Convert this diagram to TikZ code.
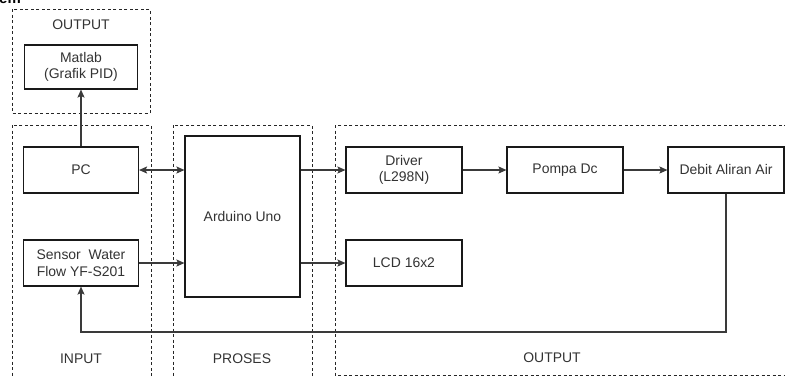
\documentclass[tikz,border=0pt]{standalone}
\usepackage{fontspec}
\setmainfont{Liberation Sans}
\usetikzlibrary{arrows.meta}
\definecolor{txt}{HTML}{333333}
\definecolor{ln}{HTML}{3A3A3A}
\begin{document}
\begin{tikzpicture}[x=1bp,y=-1bp,
  font=\fontsize{14}{16.5}\selectfont,
  blk/.style={draw=black!90, line width=1.1bp, fill=white, text=txt, align=center,
    minimum width=115bp, minimum height=46bp, inner sep=2bp},
  grp/.style={draw=black!85, line width=0.8bp, dash pattern=on 3bp off 2.5bp},
  lbl/.style={text=txt},
  arr/.style={draw=ln, line width=1.2bp, -{Stealth[length=8bp,width=7bp,inset=1.5bp]}},
  darr/.style={draw=ln, line width=1.2bp, {Stealth[length=8bp,width=7bp,inset=1.5bp]}-{Stealth[length=8bp,width=7bp,inset=1.5bp]}}]
\useasboundingbox (0,0) rectangle (785,376);
\clip (0,0) rectangle (785,376);
% cropped heading fragment
\node[anchor=base west, inner sep=0, font=\fontsize{15}{17}\selectfont\bfseries] (head) at (-1,3) {em};
% groups
\draw[grp] (12,9) rectangle (150,113);
\draw[grp] (12,125) rectangle (151,390);
\draw[grp] (173,125) rectangle (312,390);
\draw[grp] (335,125) rectangle (795,375);
\node[lbl] (lout1) at (81,25) {OUTPUT};
\node[lbl] (lin) at (81,359) {INPUT};
\node[lbl] (lpro) at (242,359) {PROSES};
\node[lbl] (lout2) at (552,358) {OUTPUT};
% blocks
\node[blk, minimum width=113bp, minimum height=44bp] (matlab) at (81,67) {Matlab\\(Grafik PID)};
\node[blk] (pc) at (81,170) {PC};
\node[blk] (sensor) at (81,263) {Sensor\ \ Water\\Flow YF-S201};
\node[blk, minimum height=161bp] (ard) at (242.5,216.5) {Arduino Uno};
\node[blk, minimum width=116bp] (drv) at (404,170) {Driver\\(L298N)};
\node[blk, minimum width=116bp] (pompa) at (565,170) {Pompa Dc};
\node[blk, minimum width=116bp] (debit) at (726,170) {Debit Aliran Air};
\node[blk, minimum width=116bp] (lcd) at (404,263) {LCD 16x2};
% connectors
\draw[arr] (pc) -- (matlab);
\draw[darr] (pc.east) -- (ard.west |- pc.east);
\draw[arr] (sensor.east) -- (ard.west |- sensor.east);
\draw[arr] (ard.east |- drv.west) -- (drv.west);
\draw[arr] (ard.east |- lcd.west) -- (lcd.west);
\draw[arr] (drv) -- (pompa);
\draw[arr] (pompa) -- (debit);
\coordinate (fb) at (400,332);
\draw[arr] (debit.south) |- (fb) -| (sensor.south);
\end{tikzpicture}
\end{document}
